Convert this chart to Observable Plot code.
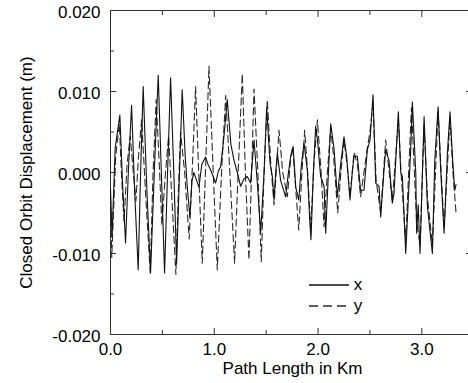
<!DOCTYPE html>
<html>
<head>
<meta charset="utf-8">
<script src="https://cdn.jsdelivr.net/npm/d3@7"></script>
<script src="https://cdn.jsdelivr.net/npm/@observablehq/plot@0.6"></script>
<style>
  html, body { margin: 0; padding: 0; background: white; }
  svg { display: block; }
</style>
</head>
<body>
<div id="chart"></div>
<script>
// ---- data ----
const xSeriesKm = [0.000,0.015,0.045,0.090,0.115,0.145,0.175,0.203,0.235,0.267,0.290,0.315,0.350,0.386,0.425,0.460,0.490,0.521,0.550,0.579,0.610,0.637,0.665,0.691,0.720,0.740,0.765,0.785,0.804,0.830,0.852,0.880,0.916,0.940,0.965,0.990,1.013,1.040,1.061,1.090,1.125,1.160,1.190,1.222,1.254,1.286,1.318,1.350,1.383,1.415,1.447,1.480,1.505,1.537,1.560,1.576,1.592,1.608,1.640,1.688,1.710,1.736,1.760,1.785,1.814,1.840,1.865,1.897,1.920,1.932,1.955,1.977,1.995,2.025,2.058,2.074,2.100,2.122,2.154,2.186,2.218,2.250,2.276,2.308,2.330,2.347,2.379,2.410,2.443,2.475,2.501,2.530,2.556,2.588,2.604,2.636,2.652,2.684,2.716,2.732,2.774,2.797,2.813,2.845,2.893,2.909,2.942,2.950,2.965,2.983,3.022,3.054,3.102,3.125,3.157,3.183,3.215,3.247,3.272,3.295,3.317,3.330];
const xSeriesDisp = [-0.0020,-0.0080,0.0030,0.0071,-0.0010,-0.0087,0.0010,0.0083,-0.0030,-0.0120,0.0000,0.0106,-0.0020,-0.0124,0.0010,0.0120,0.0000,-0.0124,0.0000,0.0117,0.0000,-0.0112,0.0000,0.0102,0.0020,-0.0018,-0.0055,-0.0010,0.0000,-0.0010,-0.0018,0.0010,0.0019,0.0010,0.0003,-0.0005,-0.0013,0.0002,0.0007,0.0040,0.0090,0.0035,0.0015,0.0000,-0.0017,-0.0008,-0.0005,-0.0013,0.0040,-0.0013,-0.0075,0.0000,0.0080,0.0012,-0.0005,-0.0034,0.0000,0.0024,-0.0010,-0.0030,-0.0005,0.0020,0.0032,-0.0018,-0.0034,0.0010,0.0036,0.0003,-0.0059,-0.0083,0.0000,0.0057,0.0040,-0.0005,-0.0017,-0.0075,0.0000,0.0060,0.0030,-0.0030,0.0010,0.0044,0.0020,-0.0034,0.0000,0.0020,0.0020,-0.0022,-0.0022,0.0028,0.0040,0.0096,-0.0013,-0.0017,-0.0055,0.0003,0.0028,0.0015,-0.0038,-0.0026,0.0075,0.0000,-0.0005,-0.0100,0.0028,0.0087,-0.0001,-0.0075,-0.0040,-0.0100,0.0069,-0.0042,-0.0100,0.0015,0.0081,0.0000,-0.0075,0.0025,0.0075,0.0020,-0.0022,-0.0015];

const ySeriesKm = [0.000,0.012,0.050,0.085,0.105,0.130,0.160,0.190,0.220,0.245,0.270,0.300,0.340,0.383,0.410,0.440,0.470,0.495,0.530,0.560,0.595,0.630,0.655,0.675,0.715,0.758,0.790,0.820,0.850,0.884,0.915,0.949,0.990,1.029,1.070,1.110,1.150,1.196,1.230,1.270,1.300,1.334,1.360,1.383,1.420,1.453,1.480,1.511,1.545,1.576,1.624,1.660,1.704,1.735,1.755,1.785,1.814,1.845,1.871,1.900,1.929,1.960,1.994,2.030,2.058,2.090,2.122,2.150,2.190,2.220,2.250,2.280,2.308,2.347,2.380,2.410,2.475,2.500,2.530,2.560,2.604,2.652,2.716,2.774,2.800,2.845,2.900,2.950,2.983,3.022,3.054,3.102,3.157,3.215,3.272,3.300,3.330];
const ySeriesDisp = [-0.0030,-0.0105,0.0020,0.0060,0.0000,-0.0060,0.0010,0.0045,0.0000,-0.0035,0.0020,0.0065,-0.0030,-0.0124,0.0000,0.0090,0.0010,-0.0065,0.0000,0.0045,-0.0040,-0.0126,-0.0020,0.0050,0.0000,-0.0082,0.0010,0.0106,0.0000,-0.0112,0.0000,0.0131,0.0000,-0.0120,0.0000,0.0095,0.0000,-0.0112,0.0000,0.0122,0.0000,-0.0108,0.0000,0.0103,0.0000,-0.0110,0.0000,0.0090,0.0010,-0.0040,0.0052,0.0000,-0.0030,0.0015,0.0032,-0.0020,-0.0071,0.0000,0.0052,0.0000,-0.0070,0.0010,0.0065,0.0000,-0.0067,0.0000,0.0055,0.0020,-0.0050,0.0000,0.0040,0.0010,-0.0030,0.0025,0.0010,-0.0030,0.0030,0.0050,0.0085,-0.0010,-0.0050,0.0040,-0.0035,0.0065,0.0000,-0.0085,0.0080,-0.0060,-0.0090,0.0060,-0.0030,-0.0090,0.0075,-0.0070,0.0068,0.0000,-0.0050];

const xMajorTicks = [0, 1, 2, 3];
const xMinorTicks = [0.5, 1.5, 2.5];
const yMajorTicks = [-0.02, -0.01, 0, 0.01, 0.02];
const yMinorTicks = [-0.015, -0.005, 0.005, 0.015];
const seriesNames = ["x", "y"];
const xAxisLabel = "Path Length in Km";
const yAxisLabel = "Closed Orbit Displacement (m)";

const xData = xSeriesKm.map((k, i) => ({km: k, v: xSeriesDisp[i]}));
const yData = ySeriesKm.map((k, i) => ({km: k, v: ySeriesDisp[i]}));

const frameColor = "#333";
const font = "'Liberation Sans', Arial, Helvetica, sans-serif";
const fs = 17;

const chart = Plot.plot({
  width: 468,
  height: 383,
  marginLeft: 110,
  marginRight: 0,
  marginTop: 10,
  marginBottom: 49,
  x: {domain: [0, 3.45]},
  y: {domain: [-0.02, 0.02]},
  style: {fontFamily: font, fontSize: fs + "px", background: "white", color: "black"},
  marks: [
    // frame
    Plot.ruleY([-0.02, 0.02], {stroke: frameColor, strokeWidth: 1}),
    Plot.ruleX([0], {stroke: frameColor, strokeWidth: 1}),
    // inward ticks
    Plot.axisX(xMajorTicks, {anchor: "bottom", tickSize: 6, dy: -6, tickFormat: () => "", label: null, stroke: frameColor}),
    Plot.axisX(xMinorTicks, {anchor: "bottom", tickSize: 4, dy: -4, tickFormat: () => "", label: null, stroke: frameColor}),
    Plot.axisX(xMajorTicks, {anchor: "top", tickSize: 6, dy: 6, tickFormat: () => "", label: null, stroke: frameColor}),
    Plot.axisX(xMinorTicks, {anchor: "top", tickSize: 4, dy: 4, tickFormat: () => "", label: null, stroke: frameColor}),
    Plot.axisY(yMajorTicks, {anchor: "left", tickSize: 6, dx: 6, tickFormat: () => "", label: null, stroke: frameColor}),
    Plot.axisY(yMinorTicks, {anchor: "left", tickSize: 4, dx: 4, tickFormat: () => "", label: null, stroke: frameColor}),
    Plot.axisY(yMajorTicks, {anchor: "right", tickSize: 3, dx: -3, tickFormat: () => "", label: null, stroke: frameColor}),
    // tick labels
    Plot.axisX(xMajorTicks, {anchor: "bottom", tickSize: 0, tickPadding: 8, tickFormat: d => d.toFixed(1), label: null, fontSize: fs, fill: "black"}),
    Plot.axisY(yMajorTicks, {anchor: "left", tickSize: 0, tickPadding: 10, dy: 2, tickFormat: d => d.toFixed(3), label: null, fontSize: fs, fill: "black"}),
    // axis titles
    Plot.text([xAxisLabel], {frameAnchor: "bottom", textAnchor: "middle", dy: 39, dx: 3, fontSize: fs, fill: "black"}),
    Plot.text([yAxisLabel], {frameAnchor: "left", textAnchor: "middle", rotate: -90, dx: -84, fontSize: fs, fill: "black"}),
    // data
    Plot.line(yData, {x: "km", y: "v", stroke: "#2a2a2a", strokeWidth: 1.1, strokeDasharray: "7,4"}),
    Plot.line(xData, {x: "km", y: "v", stroke: "#111", strokeWidth: 1.1})
  ]
});

// legend (pixel layout, inside the frame)
const svg = d3.select(chart);
const legend = svg.append("g").attr("font-family", font).attr("font-size", fs);
seriesNames.forEach((name, i) => {
  const yy = 285 + i * 21;
  legend.append("line")
    .attr("x1", 309).attr("x2", 349).attr("y1", yy).attr("y2", yy)
    .attr("stroke", i === 0 ? "#111" : "#2a2a2a").attr("stroke-width", 1.3)
    .attr("stroke-dasharray", i === 0 ? null : "9,5");
  legend.append("text")
    .attr("x", 358).attr("y", yy).attr("dy", "0.32em")
    .attr("fill", "black").text(name);
});

document.getElementById("chart").appendChild(chart);
</script>
</body>
</html>
